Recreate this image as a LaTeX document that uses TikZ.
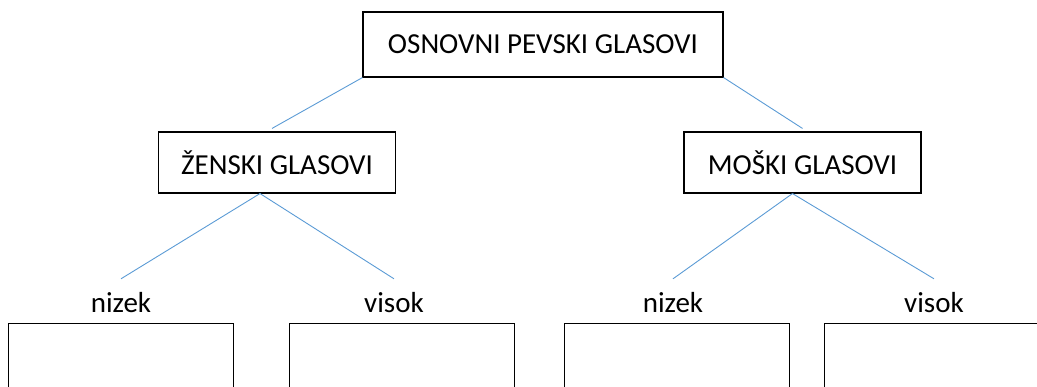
\documentclass[tikz,border=0pt]{standalone}
\usepackage{fontspec}
\setmainfont{Carlito}
\usetikzlibrary{positioning}
\definecolor{linkblue}{HTML}{5B9BD5}
\begin{document}
\begin{tikzpicture}[x=1pt,y=-1pt,font=\fontsize{29}{34}\selectfont]
  \tikzset{voicebox/.style={rectangle, draw, line width=1.1pt, inner sep=0pt,
      minimum height=61pt, minimum width=237pt}}
  \tikzset{rootbox/.style={voicebox, minimum height=65pt, minimum width=360pt}}
  \tikzset{emptybox/.style={rectangle, draw, line width=1.1pt, inner sep=0pt,
      minimum width=225pt, minimum height=100pt, anchor=north west}}
  \tikzset{rangelabel/.style={anchor=base, inner xsep=0pt, inner ysep=14pt,
      text height=20pt, text depth=0pt}}
  \tikzset{link/.style={draw=linkblue, line width=0.9pt}}
  \useasboundingbox (0,0) rectangle (1037,387);
  \clip (0,0) rectangle (1037,387);
  \node[rootbox] (osnovni) at (543,44.5) {OSNOVNI PEVSKI GLASOVI};
  \node[voicebox] (zenski) at (277,162.5) {ŽENSKI GLASOVI};
  \node[voicebox] (moski) at (802.5,162.5) {MOŠKI GLASOVI};
  \node[rangelabel] (znizek) at (121,313) {nizek};
  \node[rangelabel] (zvisok) at (394,313) {visok};
  \node[rangelabel] (mnizek) at (673,313) {nizek};
  \node[rangelabel] (mvisok) at (934,313) {visok};
  \node[emptybox] (znizekbox) at (8,323) {};
  \node[emptybox] (zvisokbox) at (289,323) {};
  \node[emptybox] (mnizekbox) at (564,323) {};
  \node[emptybox] (mvisokbox) at (824,323) {};
  \draw[link] (osnovni.south west) -- ([xshift=-5pt,yshift=3pt]zenski.north);
  \draw[link] (osnovni.south east) -- ([yshift=3pt]moski.north);
  \draw[link] ([xshift=-17pt]zenski.south) -- (znizek.north);
  \draw[link] ([xshift=-17pt]zenski.south) -- (zvisok.north);
  \draw[link] ([xshift=-10pt]moski.south) -- (mnizek.north);
  \draw[link] ([xshift=-10pt]moski.south) -- (mvisok.north);
\end{tikzpicture}
\end{document}
